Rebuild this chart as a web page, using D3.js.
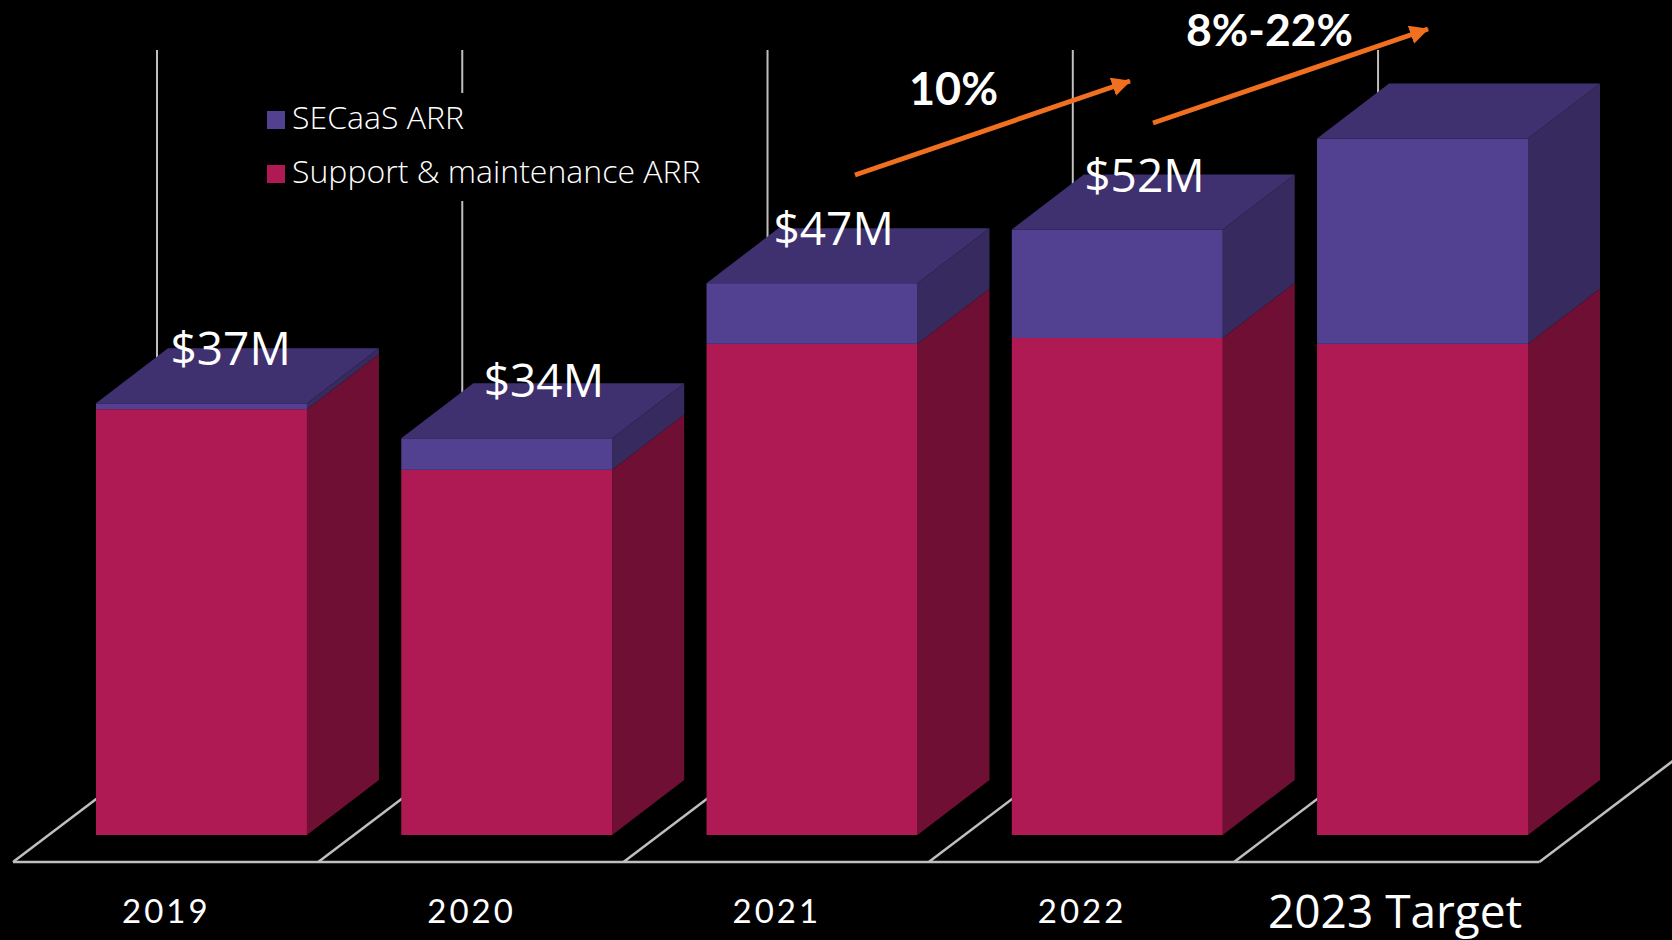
<!DOCTYPE html>
<html>
<head>
<meta charset="utf-8">
<script src="https://cdn.jsdelivr.net/npm/d3@7"></script>
<style>
  html, body { margin: 0; background: #000; overflow: hidden; }
  svg { display: block; }
  text { fill: #fff; }
</style>
</head>
<body>
<div id="wrapper"></div>
<script>
const years = ["2019", "2020", "2021", "2022", "2023 Target"]
const supportArr = [36.5, 31.3, 42.1, 42.6, 42.1]
const secaasArr = [0.5, 2.7, 5.2, 9.3, 17.6]
const totalLabels = ["$37M", "$34M", "$47M", "$52M", ""]
const seriesNames = ["Support & maintenance ARR", "SECaaS ARR"]
const growthLabels = ["10%", "8%-22%"]

const width = 1672
const height = 940
const baseY = 835
const depth = { x: 72, y: 55 }

const colors = {
  "Support & maintenance ARR": { front: "#AF1A55", side: "#6F0F34", top: "#6F0F34" },
  "SECaaS ARR": { front: "#524090", side: "#362A5E", top: "#3F3070" }
}

const svg = d3.select("#wrapper")
  .append("svg")
    .attr("width", width)
    .attr("height", height)

const x = d3.scaleBand()
  .domain(years)
  .range([96, 1528])
  .paddingInner(0.309)

const y = d3.scaleLinear()
  .domain([0, 60])
  .range([baseY, baseY - 700])

const rows = years.map((d, i) => ({
  year: d,
  "Support & maintenance ARR": supportArr[i],
  "SECaaS ARR": secaasArr[i]
}))
const stacked = d3.stack().keys(seriesNames)(rows)
const totals = supportArr.map((d, i) => d + secaasArr[i])

// floor and back wall lines
const floorY = 862
const floorOffset = x(years[0]) - 13
const gridColor = "#BFBFBF"
const floorXs = years.map(d => x(d) - floorOffset)
const floorEnd = floorXs[4] + x.step()

const grid = svg.append("g")
  .attr("stroke", gridColor)
  .attr("stroke-width", 2.5)
  .attr("fill", "none")

// wall lines stop under the roof so they never show through the bar seams
grid.selectAll(".wall")
  .data(floorXs)
  .enter().append("line")
    .attr("class", "wall")
    .attr("stroke-width", 2)
    .attr("x1", d => d + 144)
    .attr("x2", d => d + 144)
    .attr("y1", 50)
    .attr("y2", (d, i) => y(totals[i]) - 30)

grid.selectAll(".diag")
  .data(floorXs.concat([floorEnd]))
  .enter().append("line")
    .attr("class", "diag")
    .attr("x1", d => d)
    .attr("y1", floorY)
    .attr("x2", d => d + 144)
    .attr("y2", floorY - 109)

grid.append("line")
  .attr("x1", floorXs[0])
  .attr("x2", floorEnd)
  .attr("y1", floorY)
  .attr("y2", floorY)

// legend sits on a black box that cuts the 2020 wall line
svg.append("rect")
  .attr("x", 262)
  .attr("y", 93)
  .attr("width", 450)
  .attr("height", 108)
  .attr("fill", "#000")

// bars, drawn as extruded stacks
const bars = svg.append("g")

stacked.forEach(layer => {
  const c = colors[layer.key]
  const g = bars.append("g")

  g.selectAll(".side")
    .data(layer)
    .enter().append("polygon")
      .attr("class", "side")
      .attr("fill", c.side)
      .attr("points", d => {
        const r = x(d.data.year) + x.bandwidth()
        const y0 = y(d[0])
        const y1 = y(d[1])
        return [[r, y0], [r + depth.x, y0 - depth.y], [r + depth.x, y1 - depth.y], [r, y1]].join(" ")
      })

  g.selectAll(".front")
    .data(layer)
    .enter().append("rect")
      .attr("class", "front")
      .attr("fill", c.front)
      .attr("x", d => x(d.data.year))
      .attr("y", d => y(d[1]))
      .attr("width", x.bandwidth())
      .attr("height", d => y(d[0]) - y(d[1]))
})

// only the top series shows its roof
bars.selectAll(".roof")
  .data(stacked[1])
  .enter().append("polygon")
    .attr("class", "roof")
    .attr("fill", colors["SECaaS ARR"].top)
    .attr("points", d => {
      const l = x(d.data.year)
      const r = l + x.bandwidth()
      const t = y(d[1])
      return [[l, t], [r, t], [r + depth.x, t - depth.y], [l + depth.x, t - depth.y]].join(" ")
    })

// value labels
const labelDx = [74.5, 82.5, 67, 72.5, 0]
const labelDy = [38, 41, 38, 38, 0]
svg.selectAll(".total")
  .data(totalLabels)
  .enter().append("text")
    .attr("class", "total")
    .attr("x", (d, i) => x(years[i]) + labelDx[i])
    .attr("y", (d, i) => y(totals[i]) - labelDy[i])
    .attr("font-family", "'Open Sans'")
    .attr("font-size", 46)
    .text(d => d)

// year labels
svg.selectAll(".year")
  .data(years)
  .enter().append("text")
    .attr("class", "year")
    .attr("x", (d, i) => i === 4 ? 1268 : x(d) + 26)
    .attr("y", (d, i) => i === 4 ? 928 : 922.5)
    .attr("font-family", (d, i) => i === 4 ? "'Open Sans'" : "Lato")
    .attr("font-size", (d, i) => i === 4 ? 46 : 33)
    .attr("letter-spacing", (d, i) => i === 4 ? 0 : 3)
    .text(d => d)

// legend
const legendNames = ["SECaaS ARR", "Support & maintenance ARR"]
const legend = svg.selectAll(".legend")
  .data(legendNames)
  .enter().append("g")
    .attr("class", "legend")
    .attr("transform", (d, i) => `translate(267, ${111 + i * 54})`)

legend.append("rect")
  .attr("width", 18)
  .attr("height", 18)
  .attr("fill", d => colors[d].front)

legend.append("text")
  .attr("x", 25)
  .attr("y", 18)
  .attr("font-family", "'Open Sans'")
  .attr("font-weight", 300)
  .attr("font-size", 32)
  .text(d => d)

// growth arrows
const orange = "#F07020"
svg.append("defs").append("marker")
  .attr("id", "arrowhead")
  .attr("viewBox", "0 0 10 10")
  .attr("refX", 9.5)
  .attr("refY", 5)
  .attr("markerUnits", "userSpaceOnUse")
  .attr("markerWidth", 19)
  .attr("markerHeight", 19)
  .attr("orient", "auto")
  .append("path")
    .attr("d", "M0,0L10,5L0,10Z")
    .attr("fill", orange)

const arrows = [
  { x1: 855, y1: 175, x2: 1130, y2: 81 },
  { x1: 1153, y1: 123, x2: 1428, y2: 29 }
]
svg.selectAll(".arrow")
  .data(arrows)
  .enter().append("line")
    .attr("class", "arrow")
    .attr("x1", d => d.x1)
    .attr("y1", d => d.y1)
    .attr("x2", d => d.x2)
    .attr("y2", d => d.y2)
    .attr("stroke", orange)
    .attr("stroke-width", 5)
    .attr("marker-end", "url(#arrowhead)")

svg.selectAll(".growth")
  .data(growthLabels)
  .enter().append("text")
    .attr("class", "growth")
    .attr("x", (d, i) => [909, 1186][i])
    .attr("y", (d, i) => [105, 46][i])
    .attr("font-family", "Lato")
    .attr("font-weight", 700)
    .attr("font-size", (d, i) => [45, 44.5][i])
    .text(d => d)
</script>
</body>
</html>
